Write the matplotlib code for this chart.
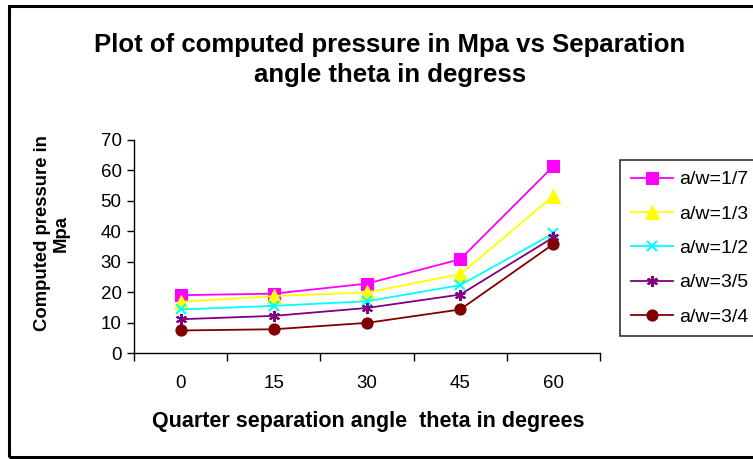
import matplotlib
matplotlib.use('Agg')
import matplotlib.pyplot as plt
import numpy as np

plt.rcParams['font.family'] = ['Liberation Sans', 'DejaVu Sans']

angles = ['0', '15', '30', '45', '60']
labels = ['a/w=1/7', 'a/w=1/3', 'a/w=1/2', 'a/w=3/5', 'a/w=3/4']
p_17 = [19.0, 19.5, 22.8, 30.8, 61.4]
p_13 = [16.8, 18.7, 19.9, 25.9, 51.6]
p_12 = [14.3, 15.5, 17.0, 22.3, 39.3]
p_35 = [11.1, 12.2, 14.8, 19.2, 38.0]
p_34 = [7.4, 7.8, 9.9, 14.3, 35.8]

series = [p_17, p_13, p_12, p_35, p_34]
colors = ['#FF00FF', '#FFFF00', '#00FFFF', '#800080', '#800000']
markers = ['s', '^', 'x', (6, 2, 0), 'o']
msizes = [8, 10, 7, 8, 8]

fig = plt.figure(figsize=(7.53, 4.59), dpi=100)
# outer chart border
fig.patches.append(plt.Rectangle((9/753, 2/459), 1.2, 451/459, transform=fig.transFigure,
                                 fill=False, edgecolor='black', linewidth=2.2))

ax = fig.add_axes([134/753, 106/459, 466/753, 213/459])
x = np.arange(len(angles))
for vals, c, m, ms, lab in zip(series, colors, markers, msizes, labels):
    ax.plot(x, vals, color=c, marker=m, markersize=ms, linewidth=1.3, label=lab,
            markeredgewidth=1.5 if m in ('x', (6, 2, 0)) else 0.8)

ax.set_xlim(-0.5, 4.5)
ax.set_ylim(0, 70)
ax.set_yticks(range(0, 71, 10))
ax.set_xticks(x)
ax.set_xticklabels(angles)
ax.set_xticks(np.arange(-0.5, 4.6, 1), minor=True)
ax.tick_params(axis='x', which='major', length=0, pad=16, labelsize=13.5)
ax.tick_params(axis='x', which='minor', length=6, width=1, direction='out')
ax.tick_params(axis='y', length=5, width=1, labelsize=13.5, pad=4)
ax.spines['top'].set_visible(False)
ax.spines['right'].set_visible(False)
ax.spines['left'].set_linewidth(1)
ax.spines['bottom'].set_linewidth(1)

fig.text(390/753, 1 - 60/459, 'Plot of computed pressure in Mpa vs Separation\nangle theta in degress',
         ha='center', va='center', fontsize=18.5, fontweight='bold', linespacing=1.3)
fig.text(52/753, 1 - 233/459, 'Computed pressure in\nMpa', rotation=90, ha='center', va='center',
         fontsize=13.3, fontweight='bold', linespacing=1.1)
fig.text(368/753, 1 - 422/459, 'Quarter separation angle  theta in degrees', ha='center', va='center',
         fontsize=15.5, fontweight='bold')

leg = fig.legend(loc='upper left', bbox_to_anchor=(620/753, 1 - 160/459), fontsize=14,
                 frameon=True, fancybox=False, edgecolor='black', borderpad=0.55,
                 borderaxespad=0, labelspacing=0.86, handlelength=2.2, handletextpad=0.3)
leg.get_frame().set_linewidth(1.2)

plt.savefig('out.png', dpi=100)
